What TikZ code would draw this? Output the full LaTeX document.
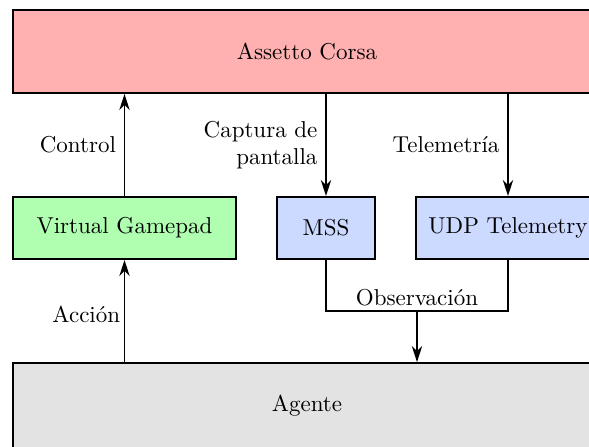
\documentclass[tikz,border=0pt]{standalone}
\usepackage{tikz}
\usetikzlibrary{arrows.meta,positioning,calc}
\definecolor{simred}{HTML}{FFB0B0}
\definecolor{padgreen}{HTML}{B0FFB0}
\definecolor{sensblue}{HTML}{CCDAFF}
\definecolor{agentgray}{HTML}{E3E3E3}

\begin{document}
\begin{tikzpicture}[x=0.435pt,y=-0.435pt,font=\normalsize,
  box/.style={draw,thick,inner sep=0pt},
  flow/.style={-{Stealth[length=7pt,width=4.5pt]},thick}]
\clip (0,0) rectangle (589,447);
\node[box,fill=simred,minimum width=255.8pt,minimum height=36.1pt] (ac) at (307,51.5) {Assetto Corsa};
\node[box,fill=padgreen,minimum width=97pt,minimum height=27pt] (vg) at (124.5,228) {Virtual Gamepad};
\node[box,fill=sensblue,minimum width=42.6pt,minimum height=27pt] (mss) at (326,228) {MSS};
\node[box,fill=sensblue,minimum width=80pt,minimum height=27pt] (udp) at (508,228) {UDP Telemetry};
\node[box,fill=agentgray,minimum width=255.8pt,minimum height=37.4pt] (ag) at (307,406) {Agente};
\draw[flow] (vg.north) -- (vg.north |- ac.south) node[midway,left]{Control};
\draw[flow] (ac.south -| mss.north) -- (mss.north) node[midway,left,align=right]{Captura de\\pantalla};
\draw[flow] (ac.south -| udp.north) -- (udp.north) node[midway,left]{Telemetría};
\draw[flow] (ag.north -| vg.south) -- (vg.south) node[pos=0.47,left,inner sep=1.5pt]{Acción};
\coordinate (obs) at ($(mss.south)!0.5!(udp.south)+(0,51)$);
\draw[thick] (mss.south) |- (obs) -| (udp.south);
\node[above,inner sep=2pt] (obslbl) at (obs) {Observación};
\draw[flow] (obs) -- (obs |- ag.north);
\end{tikzpicture}
\end{document}
